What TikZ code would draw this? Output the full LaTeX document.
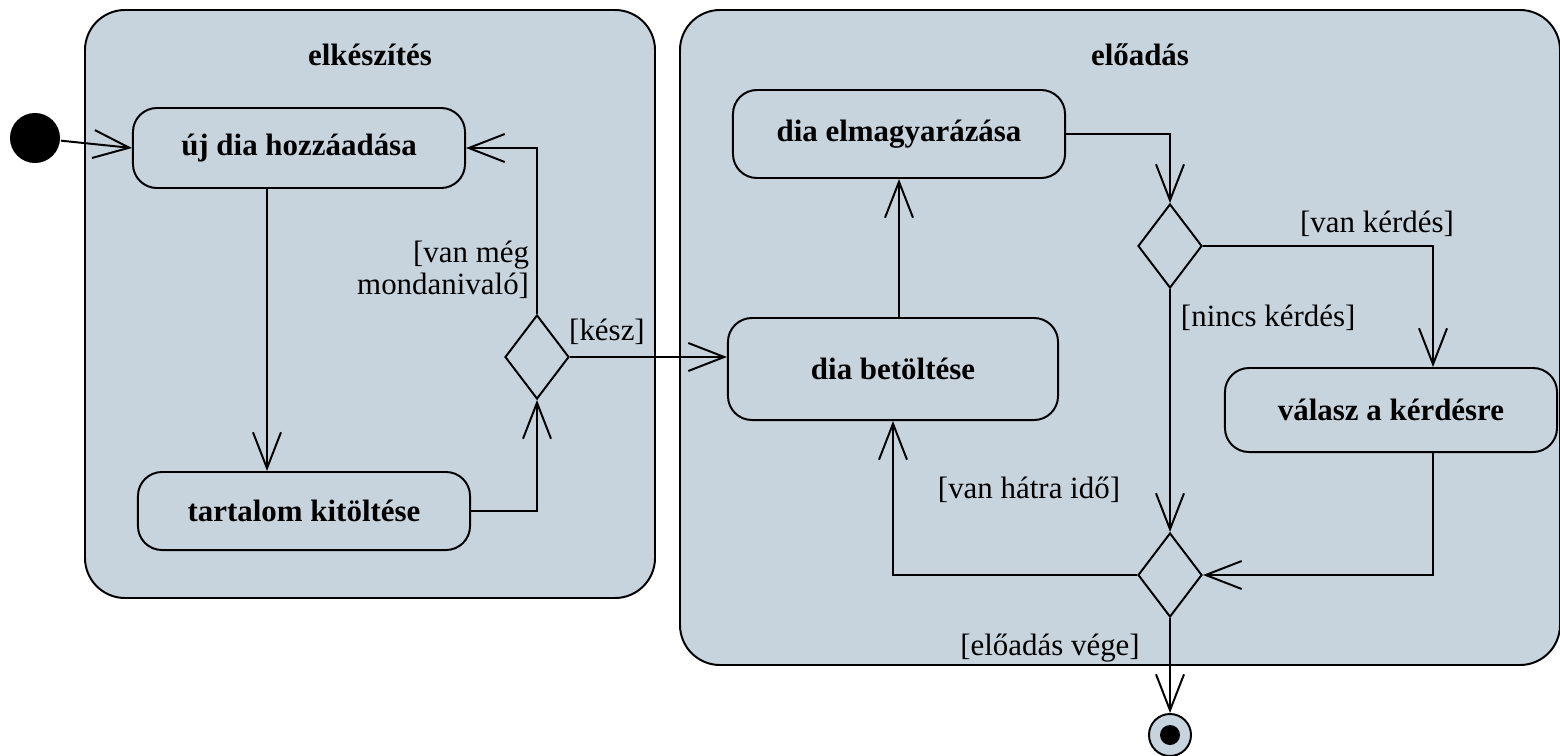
\documentclass[tikz,border=0pt]{standalone}
\usepackage{fontspec}
\setmainfont{Liberation Serif}
\usetikzlibrary{shapes.geometric,arrows.meta}
\definecolor{swimfill}{RGB}{200,212,221}
\tikzset{
  activity/.style={draw,rounded corners=0.6cm,fill=swimfill,font=\fontsize{22}{24}\selectfont\bfseries,inner sep=0pt},
  decision/.style={draw,diamond,fill=swimfill,minimum width=1.6cm,minimum height=2.1cm,inner sep=0pt},
  guard/.style={inner sep=0pt,align=center},
  region/.style={draw,rounded corners=1cm,fill=swimfill}
}
\begin{document}
\begin{tikzpicture}[x=0.025cm,y=-0.025cm,line width=1.4pt,>={Straight Barb[length=0.9cm,width=0.7cm]},
  every node/.style={font=\fontsize{22}{23}\selectfont}]
  \useasboundingbox (0,0) rectangle (1560,756);

  % Bereiche
  \draw[region] (85,10) rectangle (655,598);
  \draw[region] (680,10) rectangle (1560,665);
  \node[font=\fontsize{22}{24}\selectfont\bfseries] (t1) at (370,55) {elkészítés};
  \node[font=\fontsize{22}{24}\selectfont\bfseries] (t2) at (1140,55) {előadás};

  % Aktivitaeten
  \node[fill=black,circle,minimum size=1.25cm,inner sep=0pt] (start) at (35,138) {};
  \node[activity,minimum width=8.3cm,minimum height=2cm] (uj) at (299,148) {új dia hozzáadása};
  \node[activity,minimum width=8.3cm,minimum height=1.95cm] (tartalom) at (304,511) {tartalom kitöltése};
  \node[decision] (d1) at (537,357) {};
  \node[activity,minimum width=8.25cm,minimum height=2.55cm] (betoltes) at (893,369) {dia betöltése};
  \node[activity,minimum width=8.3cm,minimum height=2.2cm] (elmagy) at (899,134) {dia elmagyarázása};
  \node[decision] (d2) at (1170,246) {};
  \node[activity,minimum width=8.3cm,minimum height=2.1cm] (valasz) at (1391,410) {válasz a kérdésre};
  \node[decision] (d3) at (1170,575) {};
  \node[draw,circle,fill=swimfill,minimum size=1.05cm,inner sep=0pt] (vege) at (1170,735) {};
  \fill (vege.center) circle (10);

  % Uebergaenge
  \draw[->] (start) -- (uj.west);
  \draw[->] ([xshift=-0.8cm]uj.south) -- ([xshift=-0.8cm]uj.south |- tartalom.north);
  \draw[->] (tartalom.east) -| (d1.south);
  \draw[->] (d1.north) |- (uj.east);
  \draw[->] (d1.east) -- (d1.east -| betoltes.west);
  \draw[->] (elmagy.south |- betoltes.north) -- (elmagy.south);
  \draw[->] (elmagy.east) -| (d2.north);
  \draw[->] (d2.east) -| ([xshift=1.05cm]valasz.north);
  \draw[->] (d2.south) -- (d3.north);
  \draw[->] ([xshift=1.05cm]valasz.south) |- (d3.east);
  \draw[->] (d3.west) -| (betoltes.south);
  \draw[->] (d3.south) -- (vege.north);

  % Bedingungen
  \node[guard,align=right,anchor=south east] (g1) at (530,300) {[van még\\mondanivaló]};
  \node[guard] (g2) at (607,332) {[kész]};
  \node[guard] (g3) at (1377,224) {[van kérdés]};
  \node[guard,anchor=west] (g4) at (1180,318) {[nincs kérdés]};
  \node[guard] (g5) at (1029,490) {[van hátra idő]};
  \node[guard] (g6) at (1050,648) {[előadás vége]};
\end{tikzpicture}
\end{document}
